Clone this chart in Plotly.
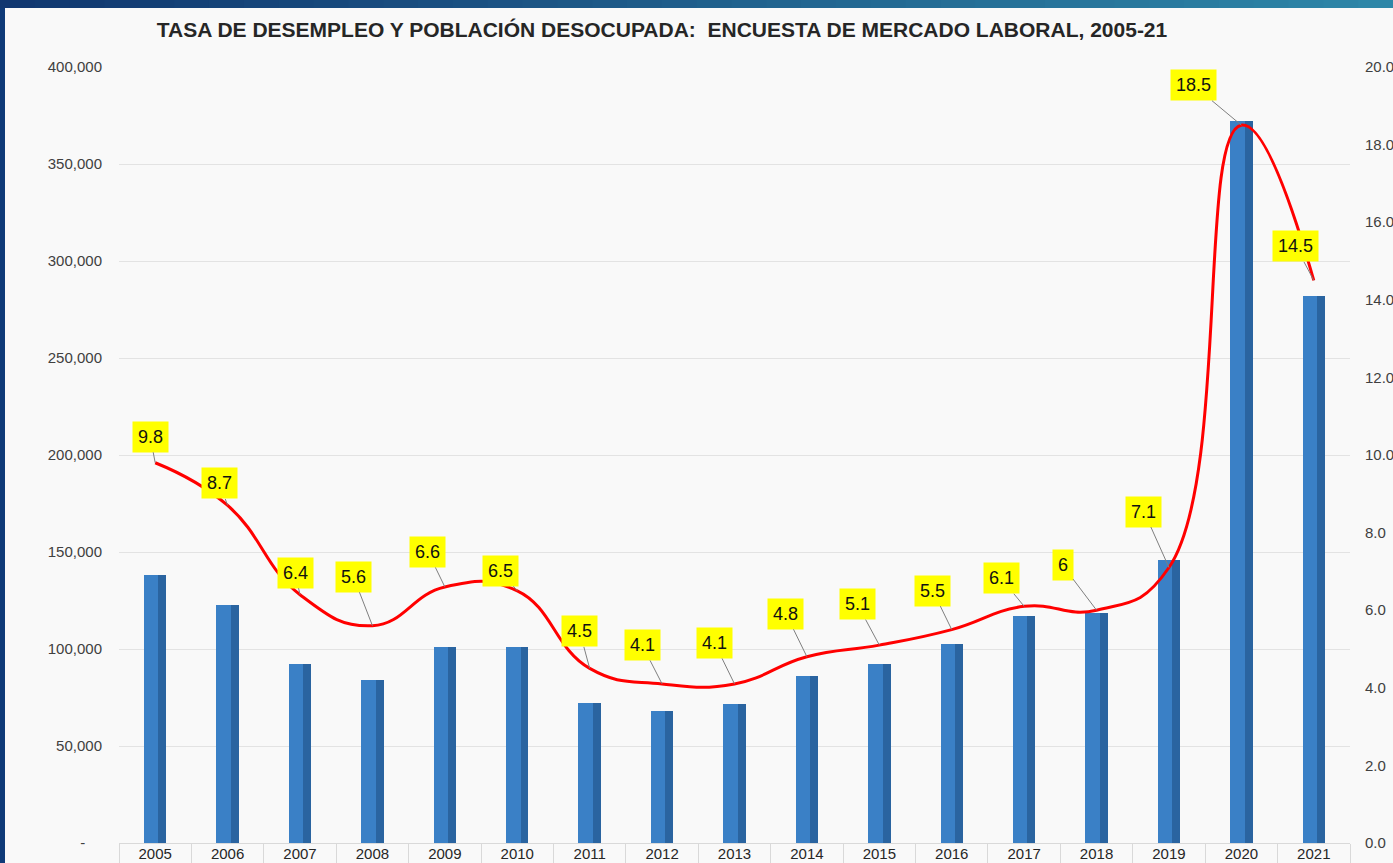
import plotly.graph_objects as go

years = ["2005", "2006", "2007", "2008", "2009", "2010", "2011", "2012", "2013",
         "2014", "2015", "2016", "2017", "2018", "2019", "2020", "2021"]
desocupados = [138100, 122700, 92300, 84000, 101000, 101000, 72200, 68000, 71600,
               86000, 92300, 102600, 117000, 118600, 145900, 372200, 282000]
tasa = [9.8, 8.7, 6.4, 5.6, 6.6, 6.5, 4.5, 4.1, 4.1, 4.8, 5.1, 5.5, 6.1, 6, 7.1, 18.5, 14.5]
tasa_labels = ["9.8", "8.7", "6.4", "5.6", "6.6", "6.5", "4.5", "4.1", "4.1", "4.8",
               "5.1", "5.5", "6.1", "6", "7.1", "18.5", "14.5"]
# label offsets (pixels) for the data labels
label_dx = [-5, -8, -5, -19, -17, -17, -10, -20, -20, -21, -22, -19, -23, -34, -25, -48, -18]
label_dy = [-26, -22, -22, -49, -35, -20, -37, -39, -41, -43, -41, -39, -28, -45, -56, -40, -34]

left_ticks = [0, 50000, 100000, 150000, 200000, 250000, 300000, 350000, 400000]
left_text = ["-\u00a0\u00a0\u00a0\u00a0", "50,000", "100,000", "150,000", "200,000",
             "250,000", "300,000", "350,000", "400,000"]
right_ticks = [0, 2, 4, 6, 8, 10, 12, 14, 16, 18, 20]

FONT = "Liberation Sans Narrow, Arial Narrow, Liberation Sans, Arial, sans-serif"
W, H = 1393, 863
L, R, T, B = 119, 43, 67, 20
PW, PH = W - L - R, H - T - B

fig = go.Figure()
fig.add_trace(go.Bar(x=years, y=desocupados, width=0.31, offset=-0.155,
                     marker=dict(color="#2a64a0", line=dict(width=0)),
                     name="Población desocupada", hoverinfo="x+y"))
fig.add_trace(go.Bar(x=years, y=desocupados, width=0.2, offset=-0.155,
                     marker=dict(color="#3a80c6", line=dict(width=0)),
                     showlegend=False, hoverinfo="skip"))
fig.add_trace(go.Scatter(x=years, y=tasa, yaxis="y2", mode="lines",
                         line=dict(color="#ff0000", width=3, shape="spline", smoothing=1.3),
                         name="Tasa de desempleo"))

for i, (v, t, dx, dy) in enumerate(zip(tasa, tasa_labels, label_dx, label_dy)):
    fig.add_annotation(x=i, y=v, xref="x", yref="y2", text=t, showarrow=True,
                       arrowhead=0, arrowwidth=1, arrowcolor="#7f7f7f", ax=dx, ay=dy,
                       bgcolor="#ffff00", borderpad=5,
                       font=dict(family=FONT, size=18, color="#111111"))

# decorative frame (dark blue border strips)
def px_x(p):
    return (p - L) / PW

def px_y(p):
    return (H - B - p) / PH

fig.add_shape(type="rect", xref="paper", yref="paper", x0=px_x(0), x1=px_x(5),
              y0=px_y(H), y1=px_y(0), fillcolor="#0f3a78", line=dict(width=0), layer="above")
n = 40
c0 = (17, 55, 112)
c1 = (46, 135, 168)
for i in range(n):
    f = i / (n - 1)
    col = "rgb(%d,%d,%d)" % tuple(int(c0[k] + (c1[k] - c0[k]) * f) for k in range(3))
    fig.add_shape(type="rect", xref="paper", yref="paper",
                  x0=px_x(W * i / n), x1=px_x(W * (i + 1) / n + 1),
                  y0=px_y(8), y1=px_y(0), fillcolor=col, line=dict(width=0), layer="above")

fig.update_layout(
    width=W, height=H,
    margin=dict(l=L, r=R, t=T, b=B, autoexpand=False),
    paper_bgcolor="#f9f9f9", plot_bgcolor="#f9f9f9",
    barmode="overlay", showlegend=False, bargap=0,
    title=dict(text="<b>TASA DE DESEMPLEO Y POBLACIÓN DESOCUPADA:  ENCUESTA DE MERCADO LABORAL, 2005-21</b>",
               x=662 / W, xref="container", xanchor="center",
               y=1 - 30 / H, yref="container", yanchor="middle",
               font=dict(family=FONT, size=21, color="#262626")),
    xaxis=dict(type="category", range=[-0.5, 16.5], autorange=False, showgrid=False,
               tickson="boundaries", ticks="outside", tickangle=0, automargin=False,
               ticklen=22, tickcolor="#d9d9d9", showline=True, linecolor="#d9d9d9",
               ticklabelstandoff=-3,
               tickfont=dict(family=FONT, size=15, color="#262626"), fixedrange=True),
    yaxis=dict(range=[0, 400000], autorange=False, tickvals=left_ticks, ticktext=left_text,
               showgrid=True, gridcolor="#e3e3e3", gridwidth=1, zeroline=False,
               ticklabelstandoff=16, automargin=False,
               tickfont=dict(family=FONT, size=15, color="#404040")),
    yaxis2=dict(range=[0, 20], autorange=False, tickvals=right_ticks, tickformat=".1f",
                overlaying="y", side="right", showgrid=False, zeroline=False,
                ticklabelstandoff=14, automargin=False,
                tickfont=dict(family=FONT, size=15, color="#404040")),
)

fig.write_html("out.html", config={"displayModeBar": False},
               post_script="document.body.style.margin='0';document.body.style.overflow='hidden';")
